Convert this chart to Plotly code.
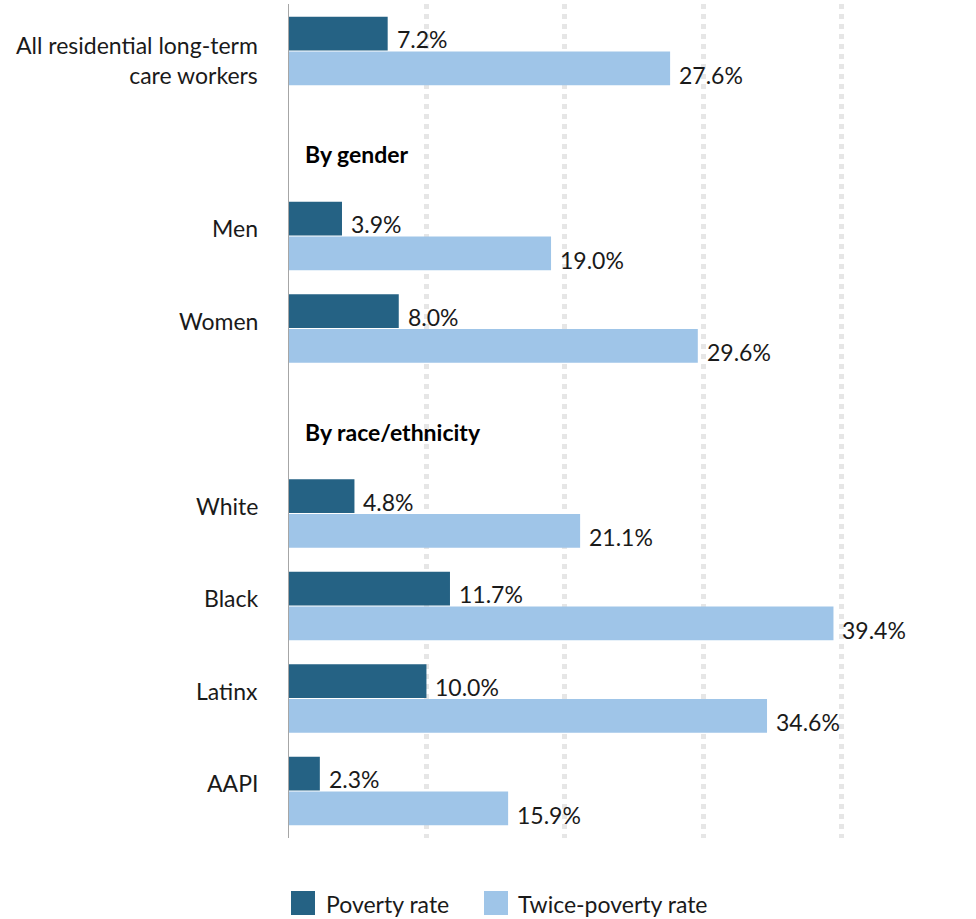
import plotly.graph_objects as go

# Poverty and twice-poverty rates (%) for residential long-term care workers
categories = ["All residential long-term<br>care workers", "Men", "Women",
              "White", "Black", "Latinx", "AAPI"]
slots = [0, 2, 3, 5, 6, 7, 8]
poverty_rate = [7.2, 3.9, 8.0, 4.8, 11.7, 10.0, 2.3]
twice_poverty_rate = [27.6, 19.0, 29.6, 21.1, 39.4, 34.6, 15.9]
section_headers = ["By gender", "By race/ethnicity"]
header_slots = [1, 4]
series_names = ["Poverty rate", "Twice-poverty rate"]

DARK = "#256284"
LIGHT = "#9fc5e8"
TEXT = "#1a1a1a"
FONT = "Lato"
FS = 23

W, H = 976, 919
ML, MR, MT, MB = 288, 65, 4, 81
BAR_W = 0.365

fig = go.Figure()
fig.add_trace(go.Bar(
    y=slots, x=poverty_rate, orientation="h", name=series_names[0],
    marker=dict(color=DARK, line=dict(width=0)),
    width=BAR_W, offset=-BAR_W - 0.005, showlegend=False,
))
fig.add_trace(go.Bar(
    y=slots, x=twice_poverty_rate, orientation="h", name=series_names[1],
    marker=dict(color=LIGHT, line=dict(width=0)),
    width=BAR_W, offset=0.005, showlegend=False,
))

annotations = []
# value labels just past each bar end
for s, p, t in zip(slots, poverty_rate, twice_poverty_rate):
    annotations.append(dict(x=p, y=s - BAR_W / 2, xref="x", yref="y",
                            text=f"{p:.1f}%", showarrow=False, xanchor="left",
                            xshift=7, yshift=-5, font=dict(size=FS, color=TEXT, family=FONT)))
    annotations.append(dict(x=t, y=s + BAR_W / 2, xref="x", yref="y",
                            text=f"{t:.1f}%", showarrow=False, xanchor="left",
                            xshift=7, yshift=-7, font=dict(size=FS, color=TEXT, family=FONT)))

# category labels to the left of the axis
for s, c in zip(slots, categories):
    multi = "<br>" in c
    annotations.append(dict(x=0, y=s, xref="paper", yref="y", text=c, showarrow=False,
                            xanchor="right", align="right", xshift=-28,
                            yshift=-9 if multi else 8,
                            font=dict(size=FS, color=TEXT, family=FONT)))

# section headers
for s, h in zip(header_slots, section_headers):
    annotations.append(dict(x=0, y=s, xref="paper", yref="y", text=f"<b>{h}</b>",
                            showarrow=False, xanchor="left", xshift=15, yshift=-11,
                            font=dict(size=FS, color="#000000", family=FONT)))

# legend drawn as swatches + labels below the plot
pw = W - ML - MR
ph = H - MT - MB


def px_x(px):
    return (px - ML) / pw


def px_y(py):
    return (H - MB - py) / ph


shapes = []
legend_items = [(291, 324, DARK, series_names[0]), (484, 516, LIGHT, series_names[1])]
for sx, tx, col, name in legend_items:
    shapes.append(dict(type="rect", xref="paper", yref="paper",
                       x0=px_x(sx), x1=px_x(sx + 24), y0=px_y(915), y1=px_y(891),
                       fillcolor=col, line=dict(width=0)))
    annotations.append(dict(x=px_x(tx), y=px_y(904), xref="paper", yref="paper",
                            text=name, showarrow=False, xanchor="left", yanchor="middle",
                            font=dict(size=FS, color=TEXT, family=FONT)))

fig.update_layout(
    width=W, height=H,
    margin=dict(l=ML, r=MR, t=MT, b=MB, pad=0),
    plot_bgcolor="white", paper_bgcolor="white",
    barmode="overlay",
    font=dict(family=FONT, size=FS, color=TEXT),
    xaxis=dict(range=[0, 45], tickvals=[10, 20, 30, 40], showticklabels=False,
               showgrid=True, gridcolor="#e6e6e6", gridwidth=5, griddash="dot",
               zeroline=False, showline=False, fixedrange=True),
    yaxis=dict(range=[8.508, -0.508], showticklabels=False, showgrid=False,
               zeroline=False, showline=False, fixedrange=True),
    shapes=shapes + [dict(type="line", xref="x", yref="paper", x0=0, x1=0, y0=0, y1=1,
                          line=dict(color="#a6a6a6", width=2))],
    annotations=annotations,
)

fig.write_html("out.html")
